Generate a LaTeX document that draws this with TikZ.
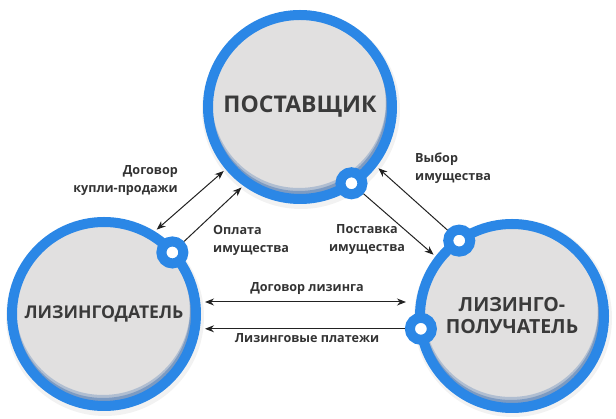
\documentclass[tikz,border=0pt]{standalone}
\usepackage{fontspec}
\setmainfont{Open Sans}
\usetikzlibrary{arrows.meta,calc}
\definecolor{ringblue}{HTML}{2B87E6}
\definecolor{shadeblue}{HTML}{1F5AA8}
\definecolor{fillgray}{HTML}{E1E0E0}
\definecolor{bigtxt}{HTML}{3A3A3A}
\definecolor{lbltxt}{HTML}{333333}
\definecolor{arrcol}{HTML}{222222}
\begin{document}
\begin{tikzpicture}[x=1pt,y=1pt,
  big/.style={circle, minimum size=184pt, inner sep=0pt, outer sep=7.5pt,
    fill=fillgray, align=center, text=bigtxt},
  ring/.style={draw=ringblue, line width=10pt},
  dot/.style={circle, minimum size=22pt, inner sep=0pt, draw=ringblue,
    line width=10pt, fill=white},
  lbl/.style={font=\fontsize{12.6}{18}\selectfont\bfseries, text=lbltxt, inner sep=0pt},
  arr/.style={draw=arrcol, line width=1pt, -{Stealth[length=9pt,width=7pt]}},
  darr/.style={draw=arrcol, line width=1pt, {Stealth[length=9pt,width=7pt]}-{Stealth[length=9pt,width=7pt]}}
]
\useasboundingbox (0,0) rectangle (616,419);

% soft outer shadows
\fill[black, opacity=.05] (301,309) circle (99pt);
\fill[black, opacity=.05] (105,102) circle (99pt);
\fill[black, opacity=.05] (513,101) circle (99pt);

\node[big, font=\fontsize{23}{26}\selectfont\bfseries] (sup) at (300,312) {ПОСТАВЩИК};
\node[big, font=\fontsize{17.6}{20}\selectfont\bfseries] (lessor) at (104,105) {ЛИЗИНГОДАТЕЛЬ};
\node[big, font=\fontsize{19.5}{22}\selectfont\bfseries] (lessee) at (512,103) {ЛИЗИНГО-\\ПОЛУЧАТЕЛЬ};

% inner shading at the bottom of each ring, then the ring itself
\foreach \c in {sup,lessor,lessee}{
  \begin{scope}
    \clip (\c.center) circle (91pt);
    \draw[shadeblue, opacity=.25, line width=8pt] ($(\c.center)+(-1,6)$) circle (91pt);
    \draw[shadeblue, opacity=.35, line width=8pt] ($(\c.center)+(-1,3)$) circle (91pt);
  \end{scope}
  \draw[ring] (\c.center) circle (92pt);
}

\node[dot] (d1) at ([shift={(-56:92)}]sup.center) {};
\node[dot] (d2) at ([shift={(42:92)}]lessor.center) {};
\node[dot] (d3) at ([shift={(125:92)}]lessee.center) {};
\node[dot] (d4) at ([shift={(188:92)}]lessee.center) {};

% connectors
\draw[darr] (lessor.58) -- (sup.-140);
\draw[arr] (d2) -- (sup.-126);
\draw[arr] (d3) -- (sup.-38);
\draw[arr] (d1) -- (lessee.142);
\coordinate (la) at ($(lessor.east)+(1.5,12)$);
\coordinate (lb) at ($(lessee.west)+(-6.5,13)$);
\draw[darr] (la) -- (la -| lb);
\coordinate (pb) at ($(d4 -| lessor.east)+(1.5,0)$);
\draw[arr] (d4) -- (pb);

% labels
\node[lbl, anchor=east, align=right] (t1) at (178,238) {Договор\\купли-продажи};
\node[lbl, anchor=west, align=left] (t2) at (213,179) {Оплата\\имущества};
\node[lbl, anchor=west, align=left] (t3) at (415,251) {Выбор\\имущества};
\node[lbl, align=center] (t4) at (367,179) {Поставка\\имущества};
\node[lbl] (t5) at (307,130) {Договор лизинга};
\node[lbl] (t6) at (307,81) {Лизинговые платежи};
\end{tikzpicture}
\end{document}
